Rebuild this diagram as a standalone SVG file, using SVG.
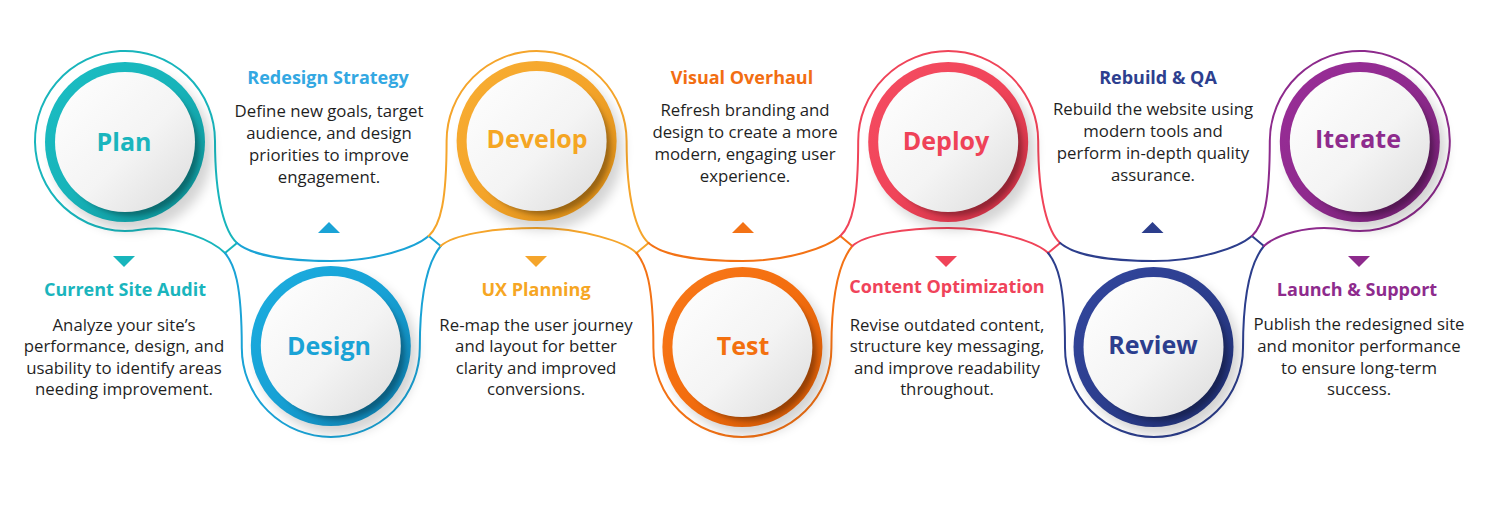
<svg xmlns="http://www.w3.org/2000/svg" width="1490" height="511" viewBox="0 0 1490 511">
<defs>
<style>
.ol{fill:none;stroke-width:2;stroke-linecap:round;stroke-linejoin:round}
.tk{fill:none;stroke-width:2;stroke-linecap:round}
.lbl{font-family:"Open Sans","Liberation Sans",sans-serif;font-weight:700;font-size:25px;text-anchor:middle}
.ttl{font-family:"Open Sans","Liberation Sans",sans-serif;font-weight:700;font-size:18px;text-anchor:middle}
.body{font-family:"Open Sans","Liberation Sans",sans-serif;font-weight:400;font-size:16.8px;fill:#1f1f1f;text-anchor:middle}
.sh{fill:#000;opacity:.17}
.ish{fill:#000;opacity:.3}
.disc{fill:url(#disc)}
</style>
<filter id="b6" x="-40%" y="-40%" width="180%" height="180%"><feGaussianBlur stdDeviation="6"/></filter>
<filter id="b3" x="-30%" y="-30%" width="160%" height="160%"><feGaussianBlur stdDeviation="2.5"/></filter>
<linearGradient id="disc" x1="0" y1="0" x2="1" y2="1"><stop offset="0" stop-color="#ffffff"/><stop offset=".55" stop-color="#f4f4f4"/><stop offset="1" stop-color="#dcdcdc"/></linearGradient>
<linearGradient id="gTeal" x1="0" y1="0" x2="1" y2="1"><stop offset="0" stop-color="#1bbec4"/><stop offset=".5" stop-color="#17b3b9"/><stop offset="1" stop-color="#0c8a8f"/></linearGradient>
<linearGradient id="gBlue" x1="0" y1="0" x2="1" y2="1"><stop offset="0" stop-color="#1caee0"/><stop offset=".5" stop-color="#17a1d5"/><stop offset="1" stop-color="#0d78a6"/></linearGradient>
<linearGradient id="gOrange" x1="0" y1="0" x2="1" y2="1"><stop offset="0" stop-color="#f8ae33"/><stop offset=".5" stop-color="#f4a42a"/><stop offset="1" stop-color="#d08512"/></linearGradient>
<linearGradient id="gDark" x1="0" y1="0" x2="1" y2="1"><stop offset="0" stop-color="#f8791a"/><stop offset=".5" stop-color="#f36d0e"/><stop offset="1" stop-color="#c95404"/></linearGradient>
<linearGradient id="gRed" x1="0" y1="0" x2="1" y2="1"><stop offset="0" stop-color="#f54d62"/><stop offset=".5" stop-color="#f04459"/><stop offset="1" stop-color="#c02c40"/></linearGradient>
<linearGradient id="gNavy" x1="0" y1="0" x2="1" y2="1"><stop offset="0" stop-color="#33479e"/><stop offset=".5" stop-color="#2c3e8e"/><stop offset="1" stop-color="#1d2c6c"/></linearGradient>
<linearGradient id="gPurple" x1="0" y1="0" x2="1" y2="1"><stop offset="0" stop-color="#9a2e98"/><stop offset=".5" stop-color="#8f2a8e"/><stop offset="1" stop-color="#6a1d69"/></linearGradient>
</defs>
<rect width="1490" height="511" fill="#ffffff"/>

<g id="connectors">
<path class="ol" stroke="#18b5bc" d="M225,253 C214,242 178,223.4 140,229.7 A90,90 0 1 1 215,141 C215,200 225,232 237,243"/>
<path class="tk" stroke="#18b5bc" d="M225,253 L237,243"/>
<path class="ol" stroke="#1aa3d6" d="M237,243 C251,255 285.8,261 330.8,261 C375.8,261 414.7,248 428.7,236 M225,253 C234,264 241.8,282 241.8,348 A89,89 0 0 0 419.8,348 C419.8,282 431.7,257 440.7,246"/>
<path class="tk" stroke="#1aa3d6" d="M440.7,246 L428.7,236"/>
<path class="ol" stroke="#f5a52b" d="M428.7,236 C440.7,225 446.6,200 446.6,141 A90,90 0 0 1 626.6,141 C626.6,200 636.5,232 648.5,243 M440.7,246 C452.7,235 491.6,228 536.6,228 C581.6,228 625.5,242 636.5,253"/>
<path class="tk" stroke="#f5a52b" d="M636.5,253 L648.5,243"/>
<path class="ol" stroke="#f37215" d="M648.5,243 C662.5,255 697.4,261 742.4,261 C787.4,261 826.3,248 840.3,236 M636.5,253 C645.5,264 653.4,282 653.4,348 A89,89 0 0 0 831.4,348 C831.4,282 843.3,257 852.3,246"/>
<path class="tk" stroke="#f37215" d="M852.3,246 L840.3,236"/>
<path class="ol" stroke="#f04459" d="M840.3,236 C852.3,225 858.2,200 858.2,141 A90,90 0 0 1 1038.2,141 C1038.2,200 1048.1,232 1060.1,243 M852.3,246 C864.3,235 903.2,228 948.2,228 C993.2,228 1037.1,242 1048.1,253"/>
<path class="tk" stroke="#f04459" d="M1048.1,253 L1060.1,243"/>
<path class="ol" stroke="#2c3e8c" d="M1060.1,243 C1074.1,255 1109,261 1154,261 C1199,261 1237.9,248 1251.9,236 M1048.1,253 C1057.1,264 1065,282 1065,348 A89,89 0 0 0 1243,348 C1243,282 1254.9,257 1263.9,246"/>
<path class="tk" stroke="#2c3e8c" d="M1263.9,246 L1251.9,236"/>
<path class="ol" stroke="#8d2a8c" d="M1251.9,236 C1263.9,225 1269.8,200 1269.8,141 A90,90 0 1 1 1344.8,229.7 C1307,223.4 1274.9,236 1263.9,246"/>
</g>

<g id="node-plan">
<circle class="sh" cx="132" cy="151" r="80" filter="url(#b6)"/>
<circle cx="125" cy="142" r="80" fill="url(#gTeal)"/>
<circle class="ish" cx="131" cy="148" r="68" filter="url(#b3)"/>
<circle class="disc" cx="125" cy="142" r="70"/>
<text class="lbl" x="124" y="151" fill="#1ab5bd">Plan</text>
</g>
<g id="node-design">
<circle class="sh" cx="337" cy="354" r="80" filter="url(#b6)"/>
<circle cx="330.8" cy="346" r="80" fill="url(#gBlue)"/>
<circle class="ish" cx="336.8" cy="352" r="68" filter="url(#b3)"/>
<circle class="disc" cx="330.8" cy="346" r="70"/>
<text class="lbl" x="329" y="355" fill="#1aa3d6">Design</text>
</g>
<g id="node-develop">
<circle class="sh" cx="543" cy="150" r="80" filter="url(#b6)"/>
<circle cx="536.6" cy="141" r="80" fill="url(#gOrange)"/>
<circle class="ish" cx="542.6" cy="147" r="68" filter="url(#b3)"/>
<circle class="disc" cx="536.6" cy="141" r="70"/>
<text class="lbl" x="537" y="148" fill="#f5a623">Develop</text>
</g>
<g id="node-test">
<circle class="sh" cx="749" cy="355" r="80" filter="url(#b6)"/>
<circle cx="742.4" cy="347" r="80" fill="url(#gDark)"/>
<circle class="ish" cx="748.4" cy="353" r="68" filter="url(#b3)"/>
<circle class="disc" cx="742.4" cy="347" r="70"/>
<text class="lbl" x="743" y="355" fill="#f3700e">Test</text>
</g>
<g id="node-deploy">
<circle class="sh" cx="955" cy="150" r="80" filter="url(#b6)"/>
<circle cx="948.2" cy="142" r="80" fill="url(#gRed)"/>
<circle class="ish" cx="954.2" cy="148" r="68" filter="url(#b3)"/>
<circle class="disc" cx="948.2" cy="142" r="70"/>
<text class="lbl" x="946" y="150" fill="#ef4258">Deploy</text>
</g>
<g id="node-review">
<circle class="sh" cx="1160" cy="355" r="80" filter="url(#b6)"/>
<circle cx="1153.5" cy="347" r="80" fill="url(#gNavy)"/>
<circle class="ish" cx="1159.5" cy="353" r="68" filter="url(#b3)"/>
<circle class="disc" cx="1153.5" cy="347" r="70"/>
<text class="lbl" x="1153" y="354" fill="#2c3e8e">Review</text>
</g>
<g id="node-iterate">
<circle class="sh" cx="1366" cy="150" r="80" filter="url(#b6)"/>
<circle cx="1359.8" cy="142" r="80" fill="url(#gPurple)"/>
<circle class="ish" cx="1365.8" cy="148" r="68" filter="url(#b3)"/>
<circle class="disc" cx="1359.8" cy="142" r="70"/>
<text class="lbl" x="1358" y="148" fill="#8e2b8d">Iterate</text>
</g>

<g id="desc-plan">
<polygon points="113,256 135,256 124,267" fill="#18b5bc"/>
<text class="ttl" x="125" y="296" fill="#1ab5bd">Current Site Audit</text>
<text class="body" x="124" y="330.5">Analyze your site’s</text>
<text class="body" x="124" y="352">performance, design, and</text>
<text class="body" x="124" y="373.5">usability to identify areas</text>
<text class="body" x="124" y="395">needing improvement.</text>
</g>
<g id="desc-design">
<polygon points="318,233 340,233 329,222" fill="#1aa3d6"/>
<text class="ttl" x="328" y="84" fill="#33a8e2">Redesign Strategy</text>
<text class="body" x="329" y="117">Define new goals, target</text>
<text class="body" x="329" y="139">audience, and design</text>
<text class="body" x="329" y="161">priorities to improve</text>
<text class="body" x="329" y="183">engagement.</text>
</g>
<g id="desc-develop">
<polygon points="525,256 547,256 536,267" fill="#f5a52b"/>
<text class="ttl" x="536" y="296" fill="#f6a623">UX Planning</text>
<text class="body" x="536" y="330.5">Re-map the user journey</text>
<text class="body" x="536" y="352">and layout for better</text>
<text class="body" x="536" y="373.5">clarity and improved</text>
<text class="body" x="536" y="395">conversions.</text>
</g>
<g id="desc-test">
<polygon points="732,233 754,233 743,222" fill="#f37215"/>
<text class="ttl" x="742" y="84" fill="#f26e12">Visual Overhaul</text>
<text class="body" x="745" y="116">Refresh branding and</text>
<text class="body" x="745" y="138">design to create a more</text>
<text class="body" x="745" y="160">modern, engaging user</text>
<text class="body" x="745" y="182">experience.</text>
</g>
<g id="desc-deploy">
<polygon points="935,256 957,256 946,267" fill="#f04459"/>
<text class="ttl" x="947" y="293" fill="#f0435a">Content Optimization</text>
<text class="body" x="947" y="330.5">Revise outdated content,</text>
<text class="body" x="947" y="352">structure key messaging,</text>
<text class="body" x="947" y="373.5">and improve readability</text>
<text class="body" x="947" y="395">throughout.</text>
</g>
<g id="desc-review">
<polygon points="1141.5,233 1163.5,233 1152.5,222" fill="#2c3e8c"/>
<text class="ttl" x="1158" y="84" fill="#2d3f8f">Rebuild &amp; QA</text>
<text class="body" x="1153" y="115">Rebuild the website using</text>
<text class="body" x="1153" y="137">modern tools and</text>
<text class="body" x="1153" y="159">perform in-depth quality</text>
<text class="body" x="1153" y="181">assurance.</text>
</g>
<g id="desc-iterate">
<polygon points="1348,256 1370,256 1359,267" fill="#8d2a8c"/>
<text class="ttl" x="1357" y="296" fill="#8e2b8d">Launch &amp; Support</text>
<text class="body" x="1359" y="330">Publish the redesigned site</text>
<text class="body" x="1359" y="352">and monitor performance</text>
<text class="body" x="1359" y="373.5">to ensure long-term</text>
<text class="body" x="1359" y="395">success.</text>
</g>
</svg>
